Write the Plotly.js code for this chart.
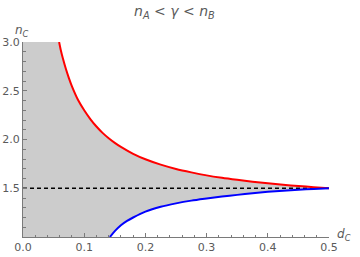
<!DOCTYPE html>
<html><head><meta charset="utf-8">
<script src="https://cdn.plot.ly/plotly-3.0.1.min.js"></script>
<style>html,body{margin:0;padding:0;background:#fff}#chart{width:360px;height:257px}</style>
</head><body><div id="chart"></div>
<script>
// Upper (red) boundary curve: d_C values and n_C values
const redX = [0.059, 0.062, 0.065, 0.07, 0.075, 0.08, 0.09, 0.10, 0.11, 0.12, 0.13, 0.14, 0.15, 0.16, 0.18, 0.20, 0.225, 0.25, 0.275, 0.30, 0.325, 0.35, 0.375, 0.40, 0.425, 0.45, 0.475, 0.50];
const redY = [3.0, 2.91, 2.835, 2.725, 2.63, 2.545, 2.405, 2.30, 2.21, 2.133, 2.068, 2.013, 1.966, 1.924, 1.853, 1.797, 1.742, 1.698, 1.663, 1.632, 1.607, 1.586, 1.567, 1.551, 1.536, 1.523, 1.511, 1.50];
// Lower (blue) boundary curve
const blueX = [0.142, 0.15, 0.16, 0.17, 0.18, 0.20, 0.225, 0.25, 0.275, 0.30, 0.325, 0.35, 0.375, 0.40, 0.425, 0.45, 0.475, 0.50];
const blueY = [1.00, 1.06, 1.12, 1.165, 1.20, 1.26, 1.31, 1.345, 1.373, 1.395, 1.415, 1.432, 1.449, 1.463, 1.475, 1.485, 1.493, 1.50];
// Reference dashed line
const refX = [0, 0.5];
const refY = [1.5, 1.5];
// Ticks
const xTicks = [0.0, 0.1, 0.2, 0.3, 0.4, 0.5];
const xTickText = ["0.0", "0.1", "0.2", "0.3", "0.4", "0.5"];
const yTicks = [1.5, 2.0, 2.5, 3.0];
const yTickText = ["1.5", "2.0", "2.5", "3.0"];

const xRange = [0, 0.5];
const yRange = [1.0, 3.0];

// Shaded region between the curves (bounded by the plot's left edge)
const fillX = [xRange[0]].concat(redX, blueX.slice().reverse(), [xRange[0]]);
const fillY = [yRange[1]].concat(redY, blueY.slice().reverse(), [yRange[0]]);

const axisCol = '#7a7a7a';
const textCol = '#5a5a5a';
const font = {family: 'DejaVu Sans, sans-serif', size: 11, color: textCol};

const traces = [
  {x: fillX, y: fillY, mode: 'lines', fill: 'toself', fillcolor: '#cccccc', line: {width: 0}, hoverinfo: 'skip'},
  {x: refX, y: refY, mode: 'lines', line: {color: '#000', width: 1.5, dash: '4px,3px'}},
  {x: redX, y: redY, mode: 'lines', line: {color: '#ff0000', width: 2, shape: 'spline', smoothing: 0.8}},
  {x: blueX, y: blueY, mode: 'lines', line: {color: '#0000ff', width: 2, shape: 'spline', smoothing: 0.8}}
];

const layout = {
  width: 360, height: 257,
  margin: {l: 23, r: 31, t: 42, b: 20, pad: 0},
  paper_bgcolor: '#fff', plot_bgcolor: '#fff',
  showlegend: false,
  font: font,
  xaxis: {
    range: xRange, showgrid: false, zeroline: false,
    showline: true, linecolor: axisCol, linewidth: 1,
    ticks: 'inside', ticklen: 4, tickcolor: axisCol, tickwidth: 1,
    tickvals: xTicks, ticktext: xTickText, tickfont: font,
    minor: {dtick: 0.02, ticks: 'inside', ticklen: 2.5, tickcolor: axisCol, showgrid: false},
    fixedrange: true
  },
  yaxis: {
    range: yRange, showgrid: false, zeroline: false,
    showline: true, linecolor: axisCol, linewidth: 1,
    ticks: 'inside', ticklen: 4, tickcolor: axisCol, tickwidth: 1,
    tickvals: yTicks, ticktext: yTickText, tickfont: font,
    minor: {dtick: 0.1, ticks: 'inside', ticklen: 2.5, tickcolor: axisCol, showgrid: false},
    fixedrange: true
  },
  annotations: [
    {text: '<i>n</i><sub><i>A</i></sub> &lt; <i>γ</i> &lt; <i>n</i><sub><i>B</i></sub>', xref: 'paper', yref: 'paper', x: 0.5, y: 1, yshift: 30, xshift: -2, showarrow: false, font: {family: 'DejaVu Sans, sans-serif', size: 14, color: textCol}, xanchor: 'center', yanchor: 'middle'},
    {text: '<i>n</i><sub><i>C</i></sub>', xref: 'paper', yref: 'paper', x: 0, y: 1, yshift: 11, xshift: -1, showarrow: false, font: {family: 'DejaVu Sans, sans-serif', size: 12, color: textCol}, xanchor: 'center', yanchor: 'middle'},
    {text: '<i>d</i><sub><i>C</i></sub>', xref: 'paper', yref: 'paper', x: 1, y: 0, xshift: 6, yshift: 2, showarrow: false, font: {family: 'DejaVu Sans, sans-serif', size: 12, color: textCol}, xanchor: 'left', yanchor: 'middle'}
  ]
};

Plotly.newPlot('chart', traces, layout, {staticPlot: true, displayModeBar: false});
</script>
</body></html>
